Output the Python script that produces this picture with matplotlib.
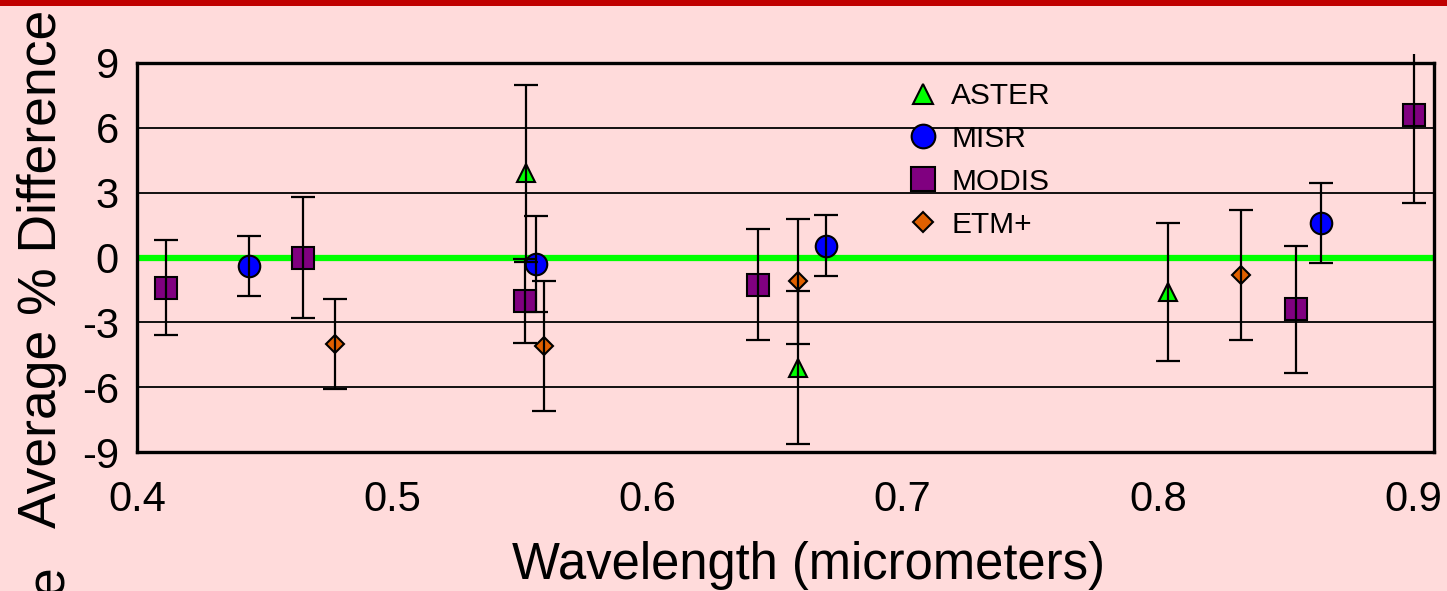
import matplotlib
matplotlib.use("Agg")
import matplotlib.pyplot as plt
from matplotlib.patches import Rectangle
from matplotlib.lines import Line2D

plt.rcParams['font.family'] = ['Liberation Sans', 'DejaVu Sans']
plt.rcParams['axes.unicode_minus'] = False

# ---- data (wavelength in micrometers, average % difference, error) ----
aster_x = [0.5525, 0.659, 0.804]
aster_y = [3.9, -5.1, -1.6]
aster_e = [4.1, 3.55, 3.2]

misr_x = [0.444, 0.5565, 0.670, 0.864]
misr_y = [-0.4, -0.3, 0.55, 1.6]
misr_e = [1.4, 2.2, 1.4, 1.85]

modis_x = [0.4115, 0.465, 0.552, 0.6435, 0.854, 0.9005]
modis_y = [-1.4, 0.0, -2.0, -1.25, -2.4, 6.6]
modis_e = [2.2, 2.8, 1.95, 2.55, 2.95, 4.1]

etm_x = [0.4775, 0.5595, 0.659, 0.8325]
etm_y = [-4.0, -4.1, -1.1, -0.8]
etm_e = [2.1, 3.0, 2.9, 3.0]

series_names = ['ASTER', 'MISR', 'MODIS', 'ETM+']
yticks = [-9, -6, -3, 0, 3, 6, 9]
xticks = [0.4, 0.5, 0.6, 0.7, 0.8, 0.9]

bg = '#FFDBDB'
W, H = 1447, 591
fig = plt.figure(figsize=(W / 100, H / 100), dpi=100, facecolor=bg)
ax = fig.add_axes([137 / W, 1 - 452 / H, (1434 - 137) / W, (452 - 63) / H])
ax.set_facecolor(bg)

# red band at top
fig.patches.append(Rectangle((0, 1 - 5.5 / H), 1, 5.5 / H, transform=fig.transFigure,
                             facecolor='#C00000', edgecolor='none', zorder=10))

# plot-area clip (extends slightly above the axes, like the original)
clip_rect = Rectangle((120 / W, 1 - 470 / H), (1447 - 120) / W, (470 - 54) / H,
                      transform=fig.transFigure, facecolor='none', edgecolor='none')

# grid lines
for yv in [6, 3, -3, -6]:
    ax.axhline(yv, color='black', lw=1.3, zorder=1)
ax.axhline(0, color='#00FF00', lw=4.5, zorder=1)

styles = [
    (aster_x, aster_y, aster_e, '^', '#00FF00', 13, 'ASTER'),
    (misr_x, misr_y, misr_e, 'o', '#0000FF', 15.5, 'MISR'),
    (modis_x, modis_y, modis_e, 's', '#800080', 15.5, 'MODIS'),
    (etm_x, etm_y, etm_e, 'D', '#E06000', 9.5, 'ETM+'),
]
handles = []
for xs, ys, es, mk, col, ms, name in styles:
    ax.plot(xs, ys, linestyle='none', marker=mk, markersize=ms, markerfacecolor=col,
            markeredgecolor='black', markeredgewidth=1.5, zorder=3, clip_on=False)
    eb = ax.errorbar(xs, ys, yerr=es, fmt='none', ecolor='black', elinewidth=1.6,
                     capsize=8.3, capthick=1.6, zorder=4)
    for art in list(eb.lines[1]) + list(eb.lines[2]):
        art.set_clip_on(True)
        art.set_clip_path(clip_rect)
    handles.append(Line2D([], [], linestyle='none', marker=mk, markersize=ms * 1.1,
                          markerfacecolor=col, markeredgecolor='black',
                          markeredgewidth=1.5, label=name))

ax.set_xlim(0.4, 0.9082)
ax.set_ylim(-9, 9)
ax.set_xticks(xticks)
ax.set_xticklabels([f'{v:.1f}' for v in xticks])
ax.set_yticks(yticks)
ax.set_yticklabels([str(v) for v in yticks])
ax.tick_params(axis='both', length=0, labelsize=30)
ax.tick_params(axis='y', pad=13)
ax.tick_params(axis='x', pad=20)
for sp in ax.spines.values():
    sp.set_color('black')
    sp.set_linewidth(2.4)
    sp.set_zorder(5)

leg = ax.legend(handles=handles, loc='upper left', bbox_to_anchor=(908 / W, 1 - 82 / H),
                bbox_transform=fig.transFigure, frameon=False, fontsize=21.5,
                handlelength=1.0, handletextpad=0.45, labelspacing=0.5,
                borderpad=0, borderaxespad=0)

fig.text(808 / W, 1 - 565 / H, 'Wavelength (micrometers)', fontsize=36.5,
         ha='center', va='center')
fig.text(42 / W, 1 - 269 / H, 'Average % Difference', fontsize=38.5,
         rotation=90, ha='center', va='center')
fig.text(49 / W, 1 - 580 / H, 'e', fontsize=38.5, rotation=90, ha='center', va='center')

fig.savefig('out.png', dpi=100, facecolor=bg)
